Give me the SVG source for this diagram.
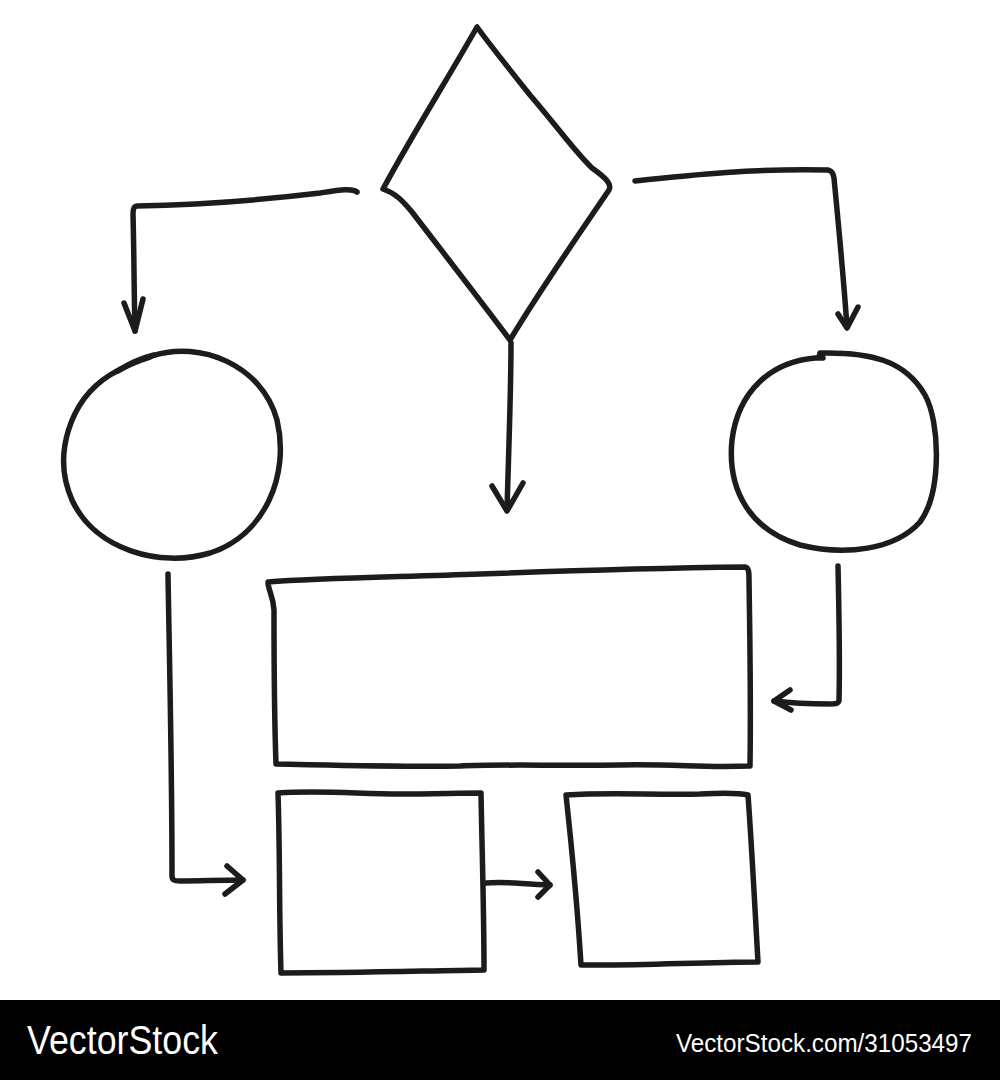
<svg xmlns="http://www.w3.org/2000/svg" width="1000" height="1080" viewBox="0 0 1000 1080">
  <style>
    .ink { fill: none; stroke: #1c1c1c; stroke-width: 5.5; stroke-linecap: round; stroke-linejoin: round; }
    .foot { fill: #ffffff; font-family: "Liberation Sans", Arial, sans-serif; }
  </style>
  <rect x="0" y="0" width="1000" height="1080" fill="#ffffff"/>

  <g id="decision">
    <path class="ink" d="M477,27 C450,75 415,130 383,189 C395,193 402,200 412,212 C445,255 480,300 510,340 C540,290 575,240 609,190 C612,184 606,178 592,168 C575,152 560,130 530,95 C510,70 490,45 477,27 Z"/>
  </g>

  <g id="circle-left">
    <path class="ink" d="M152,356 C200,340 262,365 277,420 C290,475 265,535 210,553 C160,568 95,550 72,500 C52,455 70,400 110,375 C125,366 140,360 150,357"/>
    <path class="ink" d="M118,371 C130,363 142,358 154,355"/>
  </g>

  <g id="circle-right">
    <path class="ink" d="M823,358 L815,358 C770,362 738,392 732,440 C727,490 750,530 800,545 C845,556 895,550 920,522 C942,492 940,422 925,395 C905,360 870,352 820,353 L819,357"/>
  </g>

  <g id="box-main">
    <path class="ink" d="M268,582 C320,578 400,577 480,574 C560,571 660,568 745,567 C749,568 749,572 749,580 C750,640 751,700 750,766 C700,768 680,764 620,765 C560,766 500,764 460,766 C400,767 330,765 276,764 C274,710 274,650 274,610 C273,595 268,590 268,582 Z"/>
  </g>

  <g id="box-small-left">
    <path class="ink" d="M278,793 C320,790 360,794 400,794 C430,794 460,793 481,793 C482,850 484,910 484,970 C420,971 350,973 281,973 C279,910 280,850 278,793 Z"/>
  </g>

  <g id="box-small-right">
    <path class="ink" d="M566,795 C610,792 650,795 700,794 C720,793 740,793 748,795 C752,850 755,910 758,962 C700,962 640,966 581,965 C577,900 572,850 566,795 Z"/>
  </g>

  <g id="connectors">
    <path class="ink" d="M357,192 C352,188 340,190 320,193 C270,199 200,205 137,206 C134,206 133,209 133,214 C134,250 134,290 135,331"/>
    <path class="ink" d="M124,303 L135,331 L143,299"/>
    <path class="ink" d="M635,181 C690,175 760,168 828,170 C832,171 833,173 834,178 C838,220 843,270 847,327"/>
    <path class="ink" d="M838,314 L847,328 L858,307"/>
    <path class="ink" d="M511,343 C511,390 509,440 507,510"/>
    <path class="ink" d="M492,486 L507,511 L523,483"/>
    <path class="ink" d="M838,566 C839,610 840,660 839,701 C838,704 835,704 830,704 C810,704 790,703 774,701"/>
    <path class="ink" d="M790,690 L774,701 L791,710"/>
    <path class="ink" d="M168,574 C169,640 172,760 172,876 C172,880 174,881 180,881 C200,881 220,880 243,880"/>
    <path class="ink" d="M227,866 L243,880 L225,894"/>
    <path class="ink" d="M486,883 C505,881 520,884 550,885"/>
    <path class="ink" d="M538,872 L550,885 L538,897"/>
  </g>

  <g id="footer">
    <rect x="0" y="1000" width="1000" height="80" fill="#000000"/>
    <text class="foot" x="27" y="1054" font-size="40" textLength="191" lengthAdjust="spacingAndGlyphs">VectorStock</text>
    <text class="foot" x="676" y="1052" font-size="25.5" textLength="296" lengthAdjust="spacingAndGlyphs">VectorStock.com/31053497</text>
  </g>
</svg>
